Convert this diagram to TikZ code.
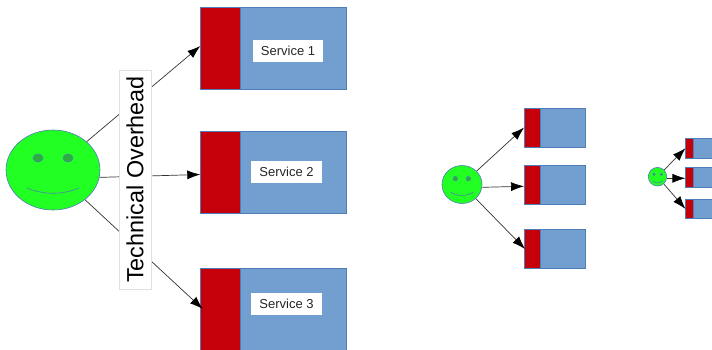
\documentclass[tikz,border=0pt]{standalone}
\usepackage{fontspec}
\setmainfont{Liberation Sans}
\usetikzlibrary{shapes.geometric,arrows.meta}
\definecolor{facegreen}{HTML}{22FF22}
\definecolor{eyegreen}{HTML}{2CAE3C}
\definecolor{svcblue}{HTML}{729FCF}
\definecolor{svcred}{HTML}{C5000B}
\definecolor{svcline}{HTML}{4F7DB8}
\tikzset{
  face/.style={ellipse, draw=svcline, fill=facegreen, line width=0.6pt, inner sep=0pt},
  eye/.style={ellipse, draw=svcline, fill=eyegreen, line width=0.5pt, inner sep=0pt},
  smile/.style={draw=svcline, line width=0.6pt},
  body/.style={rectangle, draw=svcline, fill=svcblue, line width=0.7pt, inner sep=0pt},
  overhead/.style={rectangle, draw=svcline, fill=svcred, line width=0.5pt, inner sep=0pt},
  label/.style={rectangle, fill=white, text=black!85, inner sep=0pt, font=\fontsize{13}{14}\selectfont},
  arrow/.style={-{Latex[length=13pt,width=9pt,black]}, draw=black!80, line width=0.7pt}
}
\begin{document}
\begin{tikzpicture}[x=1pt, y=-1pt]
  \useasboundingbox (0,0) rectangle (712,349);
  % large group
  \node[face, minimum width=94pt, minimum height=80pt] (f1) at (53,170) {};
  \node[eye, minimum width=10pt, minimum height=8pt] (e1a) at (38,158) {};
  \node[eye, minimum width=10pt, minimum height=8pt] (e1b) at (68,158) {};
  \draw[smile] (27,188) .. controls (44,195) and (62,195) .. (79,188);
  \foreach \n/\y in {1/48, 2/172, 3/309} {
    \node[body, minimum width=146.5pt, minimum height=82pt] (b\n) at (273.5,\y) {};
    \node[overhead, minimum width=39.5pt, minimum height=82pt] (r\n) at (220.3,\y) {};
  }
  \node[label, minimum width=70pt, minimum height=22pt] (s1) at (288,51) {Service 1\hspace{3pt}};
  \node[label, minimum width=71pt, minimum height=22pt] (s2) at (286.5,172) {Service 2};
  \node[label, minimum width=71pt, minimum height=22pt] (s3) at (286.5,304) {Service 3};
  \draw[arrow] (f1) -- ([yshift=2pt]r1.west);
  \draw[arrow] (f1.-9) -- ([yshift=-2.5pt]r2.west);
  \draw[arrow] (f1) -- ([xshift=2.5pt]r3.west);
  \node[rectangle, draw=black!12, fill=white, line width=0.6pt, minimum width=219pt, minimum height=32pt,
    inner sep=0pt, rotate=90, font=\fontsize{23.4}{24}\selectfont] (tech) at (135,179.5) {Technical Overhead};
  % medium group
  \node[face, minimum width=40pt, minimum height=38pt] (f2) at (462,184.5) {};
  \node[eye, minimum width=4.5pt, minimum height=4.5pt] (e2a) at (455.3,178.7) {};
  \node[eye, minimum width=4.5pt, minimum height=4.5pt] (e2b) at (468.3,178.7) {};
  \draw[smile] (450.7,192.3) .. controls (458,196.5) and (466,196.5) .. (473.3,192.3);
  \foreach \n/\y in {4/127.6, 5/185, 6/249} {
    \node[body, minimum width=61.4pt, minimum height=38.6pt] (b\n) at (555,\y) {};
    \node[overhead, minimum width=15.6pt, minimum height=38.6pt] (r\n) at (532.1,\y) {};
  }
  \draw[arrow] (f2) -- (r4.west);
  \draw[arrow] ([yshift=-2.8pt]f2.east) -- ([yshift=-1.3pt]r5.west);
  \draw[arrow] (f2) -- ([xshift=1pt]r6.west);
  % small group
  \node[face, minimum width=18.4pt, minimum height=18.6pt] (f3) at (657.5,176.7) {};
  \node[eye, minimum width=2.5pt, minimum height=2.5pt] (e3a) at (654,174.3) {};
  \node[eye, minimum width=2.5pt, minimum height=2.5pt] (e3b) at (661.3,174.3) {};
  \draw[smile] (652.7,181) .. controls (656,183.5) and (659.5,183.5) .. (662.7,181);
  \foreach \n/\y in {7/148.2, 8/177.2, 9/208.9} {
    \node[body, minimum width=31pt, minimum height=19.6pt] (b\n) at (701.2,\y) {};
    \node[overhead, minimum width=8pt, minimum height=19.6pt] (r\n) at (689.7,\y) {};
  }
  \draw[arrow] (f3) -- (r7.west);
  \draw[arrow] ([yshift=-1.6pt]f3.east) -- ([yshift=-1.1pt]r8.west);
  \draw[arrow] (f3) -- (r9.west);
\end{tikzpicture}
\end{document}
